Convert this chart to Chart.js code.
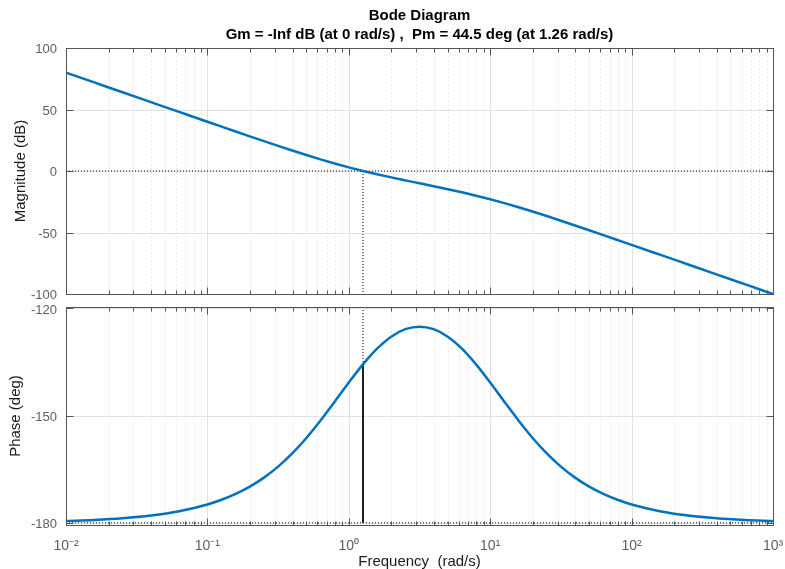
<!DOCTYPE html>
<html><head><meta charset="utf-8">
<script src="https://cdn.jsdelivr.net/npm/chart.js@4.4.1/dist/chart.umd.min.js"></script>
<style>
html,body{margin:0;padding:0;background:#fff;width:785px;height:569px;overflow:hidden}
canvas{position:absolute;left:0}
#c1{top:0}#c2{top:300px}
</style></head><body>
<canvas id="c1" width="785" height="300"></canvas>
<canvas id="c2" width="785" height="269"></canvas>
<script>
// ---- data ----
const freq = [0.01,0.01585,0.02512,0.03981,0.0631,0.1,0.1259,0.1585,0.1995,0.2512,0.3162,0.3981,0.5012,0.631,0.7943,1,1.259,1.585,1.995,2.512,3.162,3.981,5.012,6.31,7.943,10,12.59,15.85,19.95,25.12,31.62,39.81,50.12,63.1,79.43,100,158.5,251.2,398.1,631,1000];
const magDb = [80.00,72.00,64.00,56.01,48.02,40.04,36.07,32.11,28.17,24.26,20.41,16.63,12.96,9.44,6.10,2.97,0.06,-2.65,-5.20,-7.63,-10.00,-12.37,-14.80,-17.35,-20.06,-22.97,-26.10,-29.44,-32.96,-36.63,-40.41,-44.26,-48.17,-52.11,-56.07,-60.04,-68.02,-76.01,-84.00,-92.00,-100.00];
const phaseDeg = [-179.48,-179.18,-178.71,-177.95,-176.75,-174.86,-173.54,-171.90,-169.86,-167.34,-164.26,-160.57,-156.25,-151.36,-146.08,-140.71,-135.64,-131.26,-127.90,-125.81,-125.10,-125.81,-127.90,-131.25,-135.64,-140.71,-146.08,-151.36,-156.25,-160.57,-164.26,-167.34,-169.86,-171.90,-173.54,-174.86,-176.75,-177.95,-178.71,-179.18,-179.48];
const xTickValues = [0.01,0.1,1,10,100,1000];
const xTickLabels = ['10\u207B\u00B2','10\u207B\u00B9','10\u2070','10\u00B9','10\u00B2','10\u00B3'];
const magTicks = [-100,-50,0,50,100];
const phaseTicks = [-180,-150,-120];
const magRange = [-100,100];
const phaseRange = [-180.6,-119.6];
const crossFreq = 1.26;
const phaseAtCross = -135.5;
const titleLines = ['Bode Diagram','Gm = -Inf dB (at 0 rad/s) ,  Pm = 44.5 deg (at 1.26 rad/s)'];

const FONT = "'Liberation Sans', Arial, Helvetica, sans-serif";
const BLUE = '#0072BD';
const TICKCOL = '#5e5e5e';
const LABCOL = '#1a1a1a';

const framePlugin = {
  id: 'frame',
  beforeDatasetsDraw(chart, args, opts) {
    const {ctx, chartArea: a, scales: {x, y}} = chart;
    const L = Math.floor(a.left) + 0.5, R = Math.floor(a.right) + 0.5;
    const T = Math.floor(a.top) + 0.5, B = Math.floor(a.bottom) + 0.5;
    ctx.save();
    ctx.lineWidth = 1;
    ctx.strokeStyle = '#d6d6d6';
    ctx.setLineDash([1, 3]);
    for (let k = -2; k < 3; k++) for (let d = 2; d < 10; d++) {
      const px = Math.round(x.getPixelForValue(d * Math.pow(10, k))) + 0.5;
      ctx.beginPath(); ctx.moveTo(px, T); ctx.lineTo(px, B); ctx.stroke();
    }
    ctx.setLineDash([]);
    ctx.strokeStyle = '#e2e2e2';
    xTickValues.forEach(v => {
      const px = Math.round(x.getPixelForValue(v)) + 0.5;
      ctx.beginPath(); ctx.moveTo(px, T); ctx.lineTo(px, B); ctx.stroke();
    });
    opts.yTicks.forEach(v => {
      const py = Math.round(y.getPixelForValue(v)) + 0.5;
      ctx.beginPath(); ctx.moveTo(L, py); ctx.lineTo(R, py); ctx.stroke();
    });
    ctx.restore();
  },
  afterDatasetsDraw(chart, args, opts) {
    const {ctx, chartArea: a, scales: {x, y}} = chart;
    const L = Math.floor(a.left) + 0.5, R = Math.floor(a.right) + 0.5;
    const T = Math.floor(a.top) + 0.5, B = Math.floor(a.bottom) + 0.5;
    ctx.save();
    ctx.lineWidth = 1;
    ctx.strokeStyle = '#555';
    ctx.strokeRect(L, T, R - L, B - T);
    ctx.beginPath();
    for (let k = -2; k < 3; k++) for (let d = 1; d < 10; d++) {
      const px = Math.round(x.getPixelForValue(d * Math.pow(10, k))) + 0.5;
      const len = d === 1 ? 7 : 4;
      ctx.moveTo(px, B); ctx.lineTo(px, B - len);
      ctx.moveTo(px, T); ctx.lineTo(px, T + len);
    }
    opts.yTicks.forEach(v => {
      const py = Math.round(y.getPixelForValue(v)) + 0.5;
      ctx.moveTo(L, py); ctx.lineTo(L + 7, py);
      ctx.moveTo(R, py); ctx.lineTo(R - 7, py);
    });
    ctx.stroke();
    ctx.restore();
  }
};

function pts(ys) { return freq.map((f, i) => ({x: f, y: ys[i]})); }
function noPad(s) { s.paddingTop = 0; s.paddingBottom = 0; s.paddingLeft = 0; s.paddingRight = 0; }

function yAxis(range, ticks, title, tpad) {
  return {
    type: 'linear', min: range[0], max: range[1],
    afterBuildTicks: s => { s.ticks = ticks.map(v => ({value: v})); },
    afterFit: s => { s.width = 66; noPad(s); },
    grid: {display: false, drawTicks: false},
    border: {display: false},
    ticks: {autoSkip: false, padding: 9, labelOffset: 1.5, color: TICKCOL, font: {family: FONT, size: 13}, callback: v => String(v)},
    title: {display: true, text: title, color: LABCOL, font: {family: FONT, size: 15}, padding: {top: tpad, bottom: 0}}
  };
}

Chart.defaults.font.family = FONT;

new Chart(document.getElementById('c1'), {
  type: 'line',
  data: {datasets: [
    {data: pts(magDb), borderColor: BLUE, borderWidth: 2.5, pointRadius: 0, cubicInterpolationMode: 'monotone', fill: false},
    {data: [{x: freq[0], y: 0}, {x: freq[freq.length - 1], y: 0}], borderColor: '#000', borderWidth: 1, borderDash: [1, 2], pointRadius: 0},
    {data: [{x: crossFreq, y: 0}, {x: crossFreq, y: magRange[0]}], borderColor: '#000', borderWidth: 1, borderDash: [1, 2], pointRadius: 0}
  ]},
  options: {
    responsive: false, animation: false, events: [],
    layout: {padding: {left: 0, right: 12, top: 0, bottom: 0}},
    plugins: {
      legend: {display: false}, tooltip: {enabled: false},
      title: {display: true, text: titleLines, fullSize: false, color: '#000', font: {family: FONT, size: 15, weight: 'bold', lineHeight: 1.3}, padding: {top: 6, bottom: 3}},
      frame: {yTicks: magTicks}
    },
    scales: {
      x: {type: 'logarithmic', min: 0.01, max: 1000, grid: {display: false}, border: {display: false}, ticks: {display: false}, afterFit: s => { s.height = 6; noPad(s); }},
      y: yAxis(magRange, magTicks, 'Magnitude (dB)', 11.7)
    }
  },
  plugins: [framePlugin]
});

new Chart(document.getElementById('c2'), {
  type: 'line',
  data: {datasets: [
    {data: pts(phaseDeg), borderColor: BLUE, borderWidth: 2.5, pointRadius: 0, cubicInterpolationMode: 'monotone', fill: false},
    {data: [{x: crossFreq, y: phaseRange[1]}, {x: crossFreq, y: phaseAtCross}], borderColor: '#000', borderWidth: 1, borderDash: [1, 2], pointRadius: 0},
    {data: [{x: crossFreq, y: phaseAtCross}, {x: crossFreq, y: -180}], borderColor: '#000', borderWidth: 1, pointRadius: 0},
    {data: [{x: freq[0], y: -180}, {x: freq[freq.length - 1], y: -180}], borderColor: '#000', borderWidth: 1, borderDash: [1, 2], pointRadius: 0}
  ]},
  options: {
    responsive: false, animation: false, events: [],
    layout: {padding: {left: 0, right: 12, top: 7, bottom: 0}},
    plugins: {legend: {display: false}, tooltip: {enabled: false}, frame: {yTicks: phaseTicks}},
    scales: {
      x: {type: 'logarithmic', min: 0.01, max: 1000,
        afterBuildTicks: s => { s.ticks = xTickValues.map(v => ({value: v})); },
        afterFit: s => { s.height = 44; noPad(s); },
        grid: {display: false, drawTicks: false}, border: {display: false},
        ticks: {autoSkip: false, maxRotation: 0, padding: 13, color: TICKCOL, font: {family: FONT, size: 14}, callback: (v, i) => xTickLabels[i]},
        title: {display: true, text: 'Frequency  (rad/s)', color: LABCOL, font: {family: FONT, size: 15, lineHeight: 0.9}, padding: {top: 0, bottom: 0}}
      },
      y: yAxis(phaseRange, phaseTicks, 'Phase (deg)', 6.4)
    }
  },
  plugins: [framePlugin]
});
</script>
</body></html>
